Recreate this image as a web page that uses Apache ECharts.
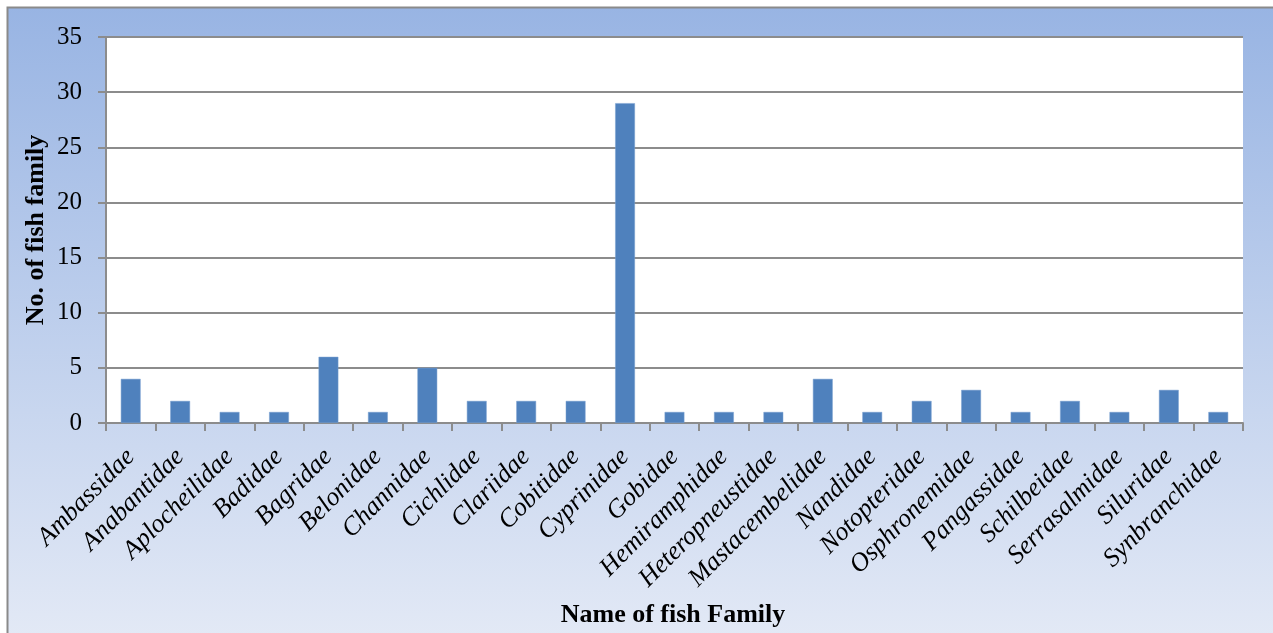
<!DOCTYPE html>
<html>
<head>
<meta charset="utf-8">
<script src="https://cdn.jsdelivr.net/npm/echarts@6/dist/echarts.min.js"></script>
<style>
  html, body { margin: 0; padding: 0; background: #ffffff; }
  #chart { width: 1273px; height: 633px; }
</style>
</head>
<body>
<div id="chart"></div>
<script>
// Fish families and the number of species recorded in each
const families = [
  'Ambassidae', 'Anabantidae', 'Aplocheilidae', 'Badidae', 'Bagridae',
  'Belonidae', 'Channidae', 'Cichlidae', 'Clariidae', 'Cobitidae',
  'Cyprinidae', 'Gobidae', 'Hemiramphidae', 'Heteropneustidae',
  'Mastacembelidae', 'Nandidae', 'Notopteridae', 'Osphronemidae',
  'Pangassidae', 'Schilbeidae', 'Serrasalmidae', 'Siluridae', 'Synbranchidae'
];
const counts = [4, 2, 1, 1, 6, 1, 5, 2, 2, 2, 29, 1, 1, 1, 4, 1, 2, 3, 1, 2, 1, 3, 1];

const yTitle = 'No. of fish family';
const xTitle = 'Name of fish Family';

const serif = '"Liberation Serif", "Times New Roman", serif';
const axisGray = '#8c8c8c';

const chart = echarts.init(document.getElementById('chart'));
chart.setOption({
  animation: false,
  graphic: [
    {
      type: 'rect',
      z: -10,
      shape: { x: 7.5, y: 7.5, width: 1280, height: 640 },
      style: {
        fill: new echarts.graphic.LinearGradient(0, 0, 0, 1, [
          { offset: 0, color: '#98b4e3' },
          { offset: 1, color: '#e4eaf6' }
        ]),
        stroke: '#8a8a8a',
        lineWidth: 2
      }
    },
    {
      type: 'text',
      x: 673,
      y: 615,
      style: {
        text: xTitle, font: 'bold 26px ' + serif, fill: '#000',
        align: 'center', verticalAlign: 'middle'
      }
    },
    {
      type: 'text',
      x: 36,
      y: 230,
      rotation: Math.PI / 2,
      style: {
        text: yTitle, font: 'bold 26px ' + serif, fill: '#000',
        align: 'center', verticalAlign: 'middle'
      }
    }
  ],
  grid: { left: 106, right: 30, top: 37, bottom: 210, show: true, backgroundColor: '#ffffff', borderWidth: 0 },
  xAxis: {
    type: 'category',
    data: families,
    axisLine: { lineStyle: { color: axisGray, width: 2 } },
    axisTick: { show: true, length: 8, lineStyle: { color: axisGray, width: 2 } },
    axisLabel: {
      interval: 0,
      rotate: 45,
      margin: 30,
      fontFamily: serif,
      fontStyle: 'italic',
      fontSize: 26,
      color: '#000'
    }
  },
  yAxis: {
    type: 'value',
    min: 0,
    max: 35,
    interval: 5,
    axisLine: { show: true, lineStyle: { color: axisGray, width: 2 } },
    axisTick: { show: true, length: 8, lineStyle: { color: axisGray, width: 2 } },
    axisLabel: { margin: 24, fontFamily: serif, fontSize: 25, color: '#000' },
    splitLine: { lineStyle: { color: axisGray, width: 2 } }
  },
  series: [{
    type: 'bar',
    data: counts,
    barCategoryGap: '60%',
    itemStyle: { color: '#4f81bd', borderColor: '#7aa0d0', borderWidth: 0.5 }
  }]
});
</script>
</body>
</html>
